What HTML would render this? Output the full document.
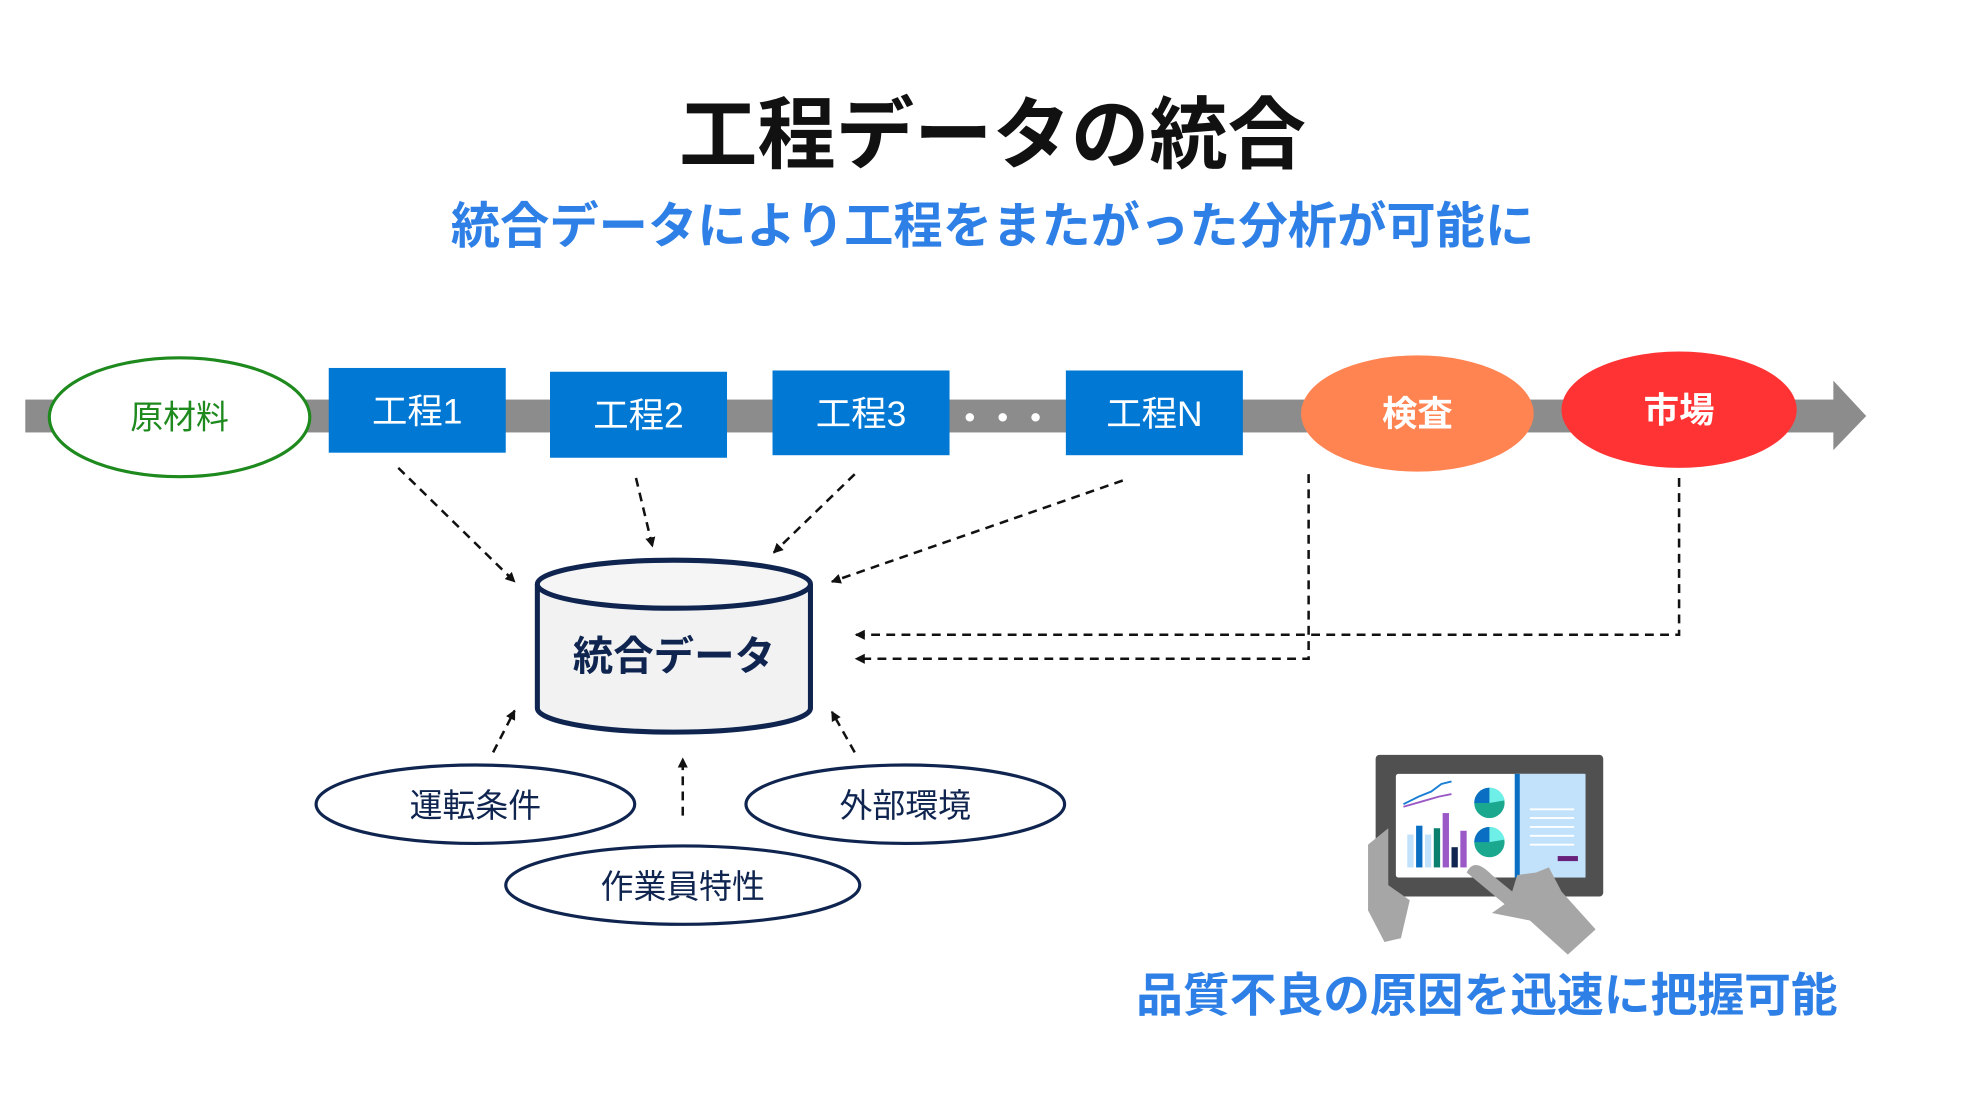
<!DOCTYPE html>
<html><head><meta charset="utf-8"><style>
html,body{margin:0;padding:0;background:#fff;}
svg{display:block;}
text{font-family:"Liberation Sans","Noto Sans CJK JP",sans-serif;}
</style></head><body>
<svg width="1980" height="1114" viewBox="0 0 1566 881" preserveAspectRatio="none" xmlns="http://www.w3.org/2000/svg">
<defs>
<marker id="ah" markerWidth="8" markerHeight="8" refX="7" refY="4" orient="auto" markerUnits="userSpaceOnUse">
<path d="M0,0 L8,4 L0,8 Z" fill="#111"/></marker>
</defs>
<rect width="1566" height="881" fill="#fff"/>
<text x="785" y="128" text-anchor="middle" font-size="62" font-weight="bold" fill="#111">工程データの統合</text>
<text x="785" y="192" text-anchor="middle" font-size="39" font-weight="bold" fill="#2f80e6">統合データにより工程をまたがった分析が可能に</text>

<rect x="20" y="316" width="1432" height="26" fill="#8c8c8c"/>
<polygon points="1450,301 1476,329 1450,356" fill="#8c8c8c"/>

<ellipse cx="142" cy="330" rx="103" ry="47" fill="#fff" stroke="#1e8a1e" stroke-width="2.5"/>
<text x="142" y="339" text-anchor="middle" font-size="26" fill="#1e8a1e">原材料</text>

<g fill="#0078d4">
<rect x="260" y="291" width="140" height="67"/>
<rect x="435" y="294" width="140" height="68"/>
<rect x="611" y="293" width="140" height="67"/>
<rect x="843" y="293" width="140" height="67"/>
</g>
<g fill="#fff" font-size="28" text-anchor="middle">
<text x="330" y="335">工程1</text>
<text x="505" y="338">工程2</text>
<text x="681" y="337">工程3</text>
<text x="913" y="337">工程N</text>
</g>
<text x="793" y="340" text-anchor="middle" font-size="26" font-weight="bold" fill="#fff">・・・</text>

<ellipse cx="1121" cy="327" rx="92" ry="46" fill="#ff8452"/>
<text x="1121" y="337" text-anchor="middle" font-size="28" font-weight="bold" fill="#fff">検査</text>
<ellipse cx="1328" cy="324" rx="93" ry="46" fill="#ff3333"/>
<text x="1328" y="334" text-anchor="middle" font-size="28" font-weight="bold" fill="#fff">市場</text>

<g stroke="#111" stroke-width="2" stroke-dasharray="7,5" fill="none" marker-end="url(#ah)">
<line x1="315" y1="370" x2="407" y2="460"/>
<line x1="503" y1="378" x2="516" y2="432"/>
<line x1="676" y1="375" x2="612" y2="437"/>
<line x1="888" y1="380" x2="658" y2="460"/>
<polyline points="1035,375 1035,521 677,521"/>
<polyline points="1328,378 1328,502 677,502"/>
<line x1="390" y1="595" x2="407" y2="562"/>
<line x1="540" y1="645" x2="540" y2="600"/>
<line x1="676" y1="595" x2="658" y2="563"/>
</g>

<path d="M425,462 L425,560 A108,19 0 0 0 641,560 L641,462" fill="#f2f2f2" stroke="#0f2550" stroke-width="4"/>
<ellipse cx="533" cy="462" rx="108" ry="19" fill="#f5f5f5" stroke="#0f2550" stroke-width="4"/>
<text x="533" y="530" text-anchor="middle" font-size="32" font-weight="bold" fill="#0f2550">統合データ</text>

<g fill="#fff" stroke="#0f2550" stroke-width="2.5">
<ellipse cx="376" cy="636" rx="126" ry="31"/>
<ellipse cx="716" cy="636" rx="126" ry="31"/>
<ellipse cx="540" cy="700" rx="140" ry="31"/>
</g>
<g font-size="26" fill="#0f2550" text-anchor="middle">
<text x="376" y="646">運転条件</text>
<text x="716" y="646">外部環境</text>
<text x="540" y="710">作業員特性</text>
</g>

<g>
<rect x="1088" y="597" width="180" height="112" rx="3" fill="#505050"/>
<rect x="1104" y="612" width="150" height="82" rx="2" fill="#fff"/>
<rect x="1200" y="612" width="54" height="82" fill="#c2e2fb"/>
<rect x="1198" y="612" width="4" height="82" fill="#0a6fc2"/>
<g stroke="#fff" stroke-width="1.5"><line x1="1210" y1="640" x2="1245" y2="640"/><line x1="1210" y1="647" x2="1245" y2="647"/><line x1="1210" y1="654" x2="1245" y2="654"/><line x1="1210" y1="661" x2="1245" y2="661"/><line x1="1210" y1="668" x2="1245" y2="668"/></g>
<rect x="1232" y="677" width="16" height="4" fill="#68217a"/>
<polyline points="1110,636 1122,630 1132,626 1140,620 1148,618" fill="none" stroke="#1a7fd4" stroke-width="1.5"/>
<polyline points="1110,638 1124,634 1138,630 1148,628" fill="none" stroke="#9b59c7" stroke-width="1.5"/>
<rect x="1113" y="660" width="5" height="26" fill="#c2e2fb"/>
<rect x="1120" y="653" width="5" height="33" fill="#0a6fc2"/>
<rect x="1127" y="660" width="5" height="26" fill="#c2e2fb"/>
<rect x="1134" y="655" width="5" height="31" fill="#0a7f6e"/>
<rect x="1141" y="643" width="5" height="43" fill="#9b59c7"/>
<rect x="1148" y="670" width="5" height="16" fill="#0f2550"/>
<rect x="1155" y="657" width="5" height="29" fill="#9b59c7"/>
<circle cx="1178" cy="635" r="12" fill="#1aa88f"/><path d="M1178,635 L1166,635 A12,12 0 0 1 1178,623 Z" fill="#0a6fc2"/><path d="M1178,635 L1178,623 A12,12 0 0 1 1190,633 Z" fill="#6ef0e8"/>
<circle cx="1178" cy="666" r="12" fill="#1aa88f"/><path d="M1178,666 L1166,666 A12,12 0 0 1 1178,654 Z" fill="#0a6fc2"/><path d="M1178,666 L1178,654 A12,12 0 0 1 1190,664 Z" fill="#6ef0e8"/>
<path d="M1082,668 L1098,655 L1098,700 L1115,712 L1108,742 L1095,745 L1082,720 Z" fill="#a6a6a6"/>
<path d="M1160,690 C1165,680 1172,684 1180,692 L1196,705 L1200,692 L1215,690 L1225,686 L1235,705 L1262,735 L1240,755 L1210,728 L1180,722 L1190,715 Z" fill="#a6a6a6"/>
</g>
<text x="1176" y="800" text-anchor="middle" font-size="37" font-weight="bold" fill="#2f80e6">品質不良の原因を迅速に把握可能</text>
</svg>
</body></html>
